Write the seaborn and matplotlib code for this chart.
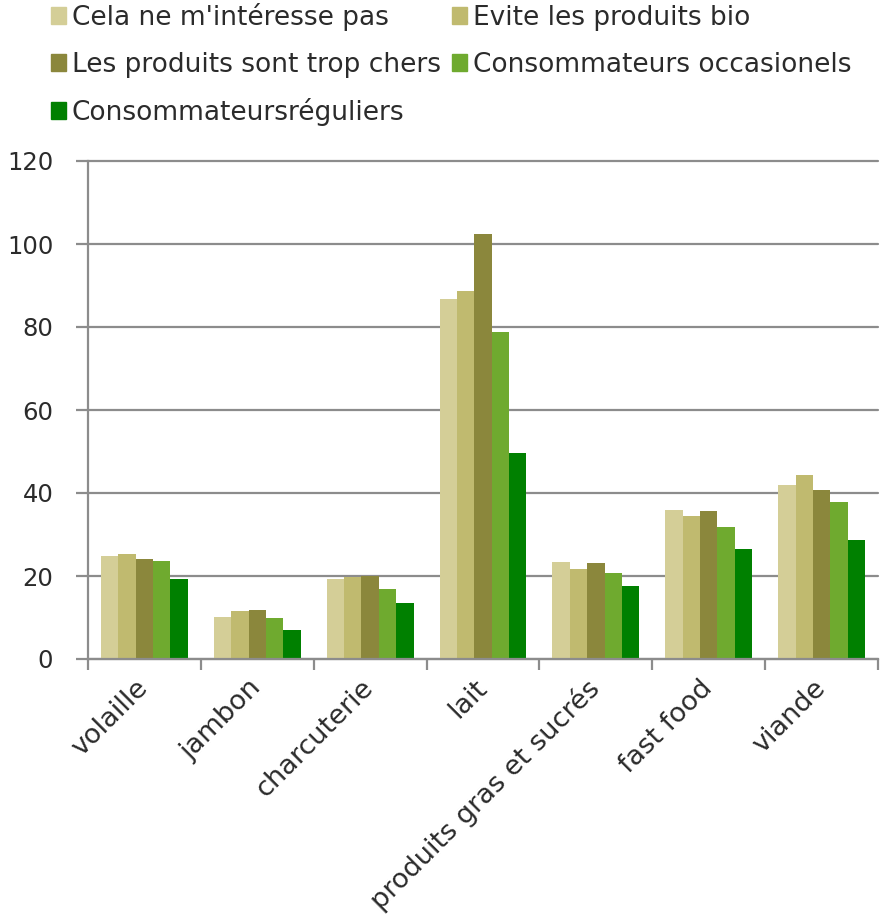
import matplotlib
matplotlib.use("Agg")
import matplotlib.pyplot as plt
import seaborn as sns
import pandas as pd
import numpy as np

categories = ["volaille", "jambon", "charcuterie", "lait",
              "produits gras et sucrés", "fast food", "viande"]
series = ["Cela ne m'intéresse pas", "Evite les produits bio",
          "Les produits sont trop chers", "Consommateurs occasionels",
          "Consommateursréguliers"]
cela = [24.7, 10.1, 19.3, 86.7, 23.3, 36.0, 42.0]
evite = [25.3, 11.6, 19.8, 88.7, 21.7, 34.5, 44.3]
chers = [24.1, 11.9, 20.1, 102.3, 23.1, 35.6, 40.8]
occas = [23.6, 9.9, 16.9, 78.8, 20.7, 31.8, 37.9]
regul = [19.3, 7.0, 13.4, 49.7, 17.5, 26.6, 28.7]
colors = ["#D4CE97", "#C0BA6F", "#8B873C", "#6FAA2F", "#008000"]

values = [cela, evite, chers, occas, regul]
rows = []
for s, vals in zip(series, values):
    for c, v in zip(categories, vals):
        rows.append({"cat": c, "serie": s, "val": v})
df = pd.DataFrame(rows)

sns.set_theme(style="white")
plt.rcParams['font.family'] = ['DejaVu Sans']
txt = "#2B2B2B"
fs_y = 17.5
fs_x = 19.5
fs_leg = 19

fig = plt.figure(figsize=(8.84, 9.23), dpi=100)
ax = fig.add_axes([88/884, 1-659/923, (878-88)/884, (659-161)/923])
sns.barplot(data=df, x="cat", y="val", hue="serie", order=categories,
            hue_order=series, palette=colors, width=0.77, gap=0,
            saturation=1, edgecolor="none", linewidth=0, ax=ax, zorder=3)

ax.set_ylim(0, 120)
ax.set_xlim(-0.5, len(categories) - 0.5)
ax.set_yticks(np.arange(0, 121, 20))
ax.yaxis.grid(True, color="#8C8C8C", linewidth=1.6, zorder=0)
for gl in ax.get_ygridlines():
    gl.set_clip_on(False)
ax.set_axisbelow(True)
ax.set_xlabel("")
ax.set_ylabel("")
for sp in ["top", "right"]:
    ax.spines[sp].set_visible(False)
for sp in ["left", "bottom"]:
    ax.spines[sp].set_color("#8C8C8C")
    ax.spines[sp].set_linewidth(1.6)
ax.spines["bottom"].set_zorder(4)

ax.set_xticks(range(len(categories)))
ax.set_xticklabels(categories, rotation=45, ha="right", va="center",
                   rotation_mode="anchor", fontsize=fs_x, color=txt)
ax.set_xticks(np.arange(-0.5, len(categories), 1.0), minor=True)
ax.tick_params(axis="x", which="major", length=0, pad=18)
ax.tick_params(axis="x", which="minor", length=8, width=1.6, color="#8C8C8C",
               direction="out", bottom=True)
ax.tick_params(axis="y", which="major", length=9, width=1.6, color="#8C8C8C",
               direction="out", left=True, labelsize=fs_y, labelcolor=txt, pad=16)

ax.legend_.remove()
handles = [plt.Rectangle((0, 0), 1, 1, color=c) for c in colors]
order = [0, 2, 4, 1, 3]
leg = fig.legend([handles[i] for i in order], [series[i] for i in order],
                 loc="upper left", bbox_to_anchor=(51/884, 1 - 3/923),
                 ncol=2, frameon=False, fontsize=fs_leg, handlelength=0.56,
                 handleheight=0.62, handletextpad=0.22, columnspacing=0.45,
                 labelspacing=0.78, borderaxespad=0, borderpad=0.0)
for t in leg.get_texts():
    t.set_color(txt)

fig.savefig("out.png", dpi=100)
